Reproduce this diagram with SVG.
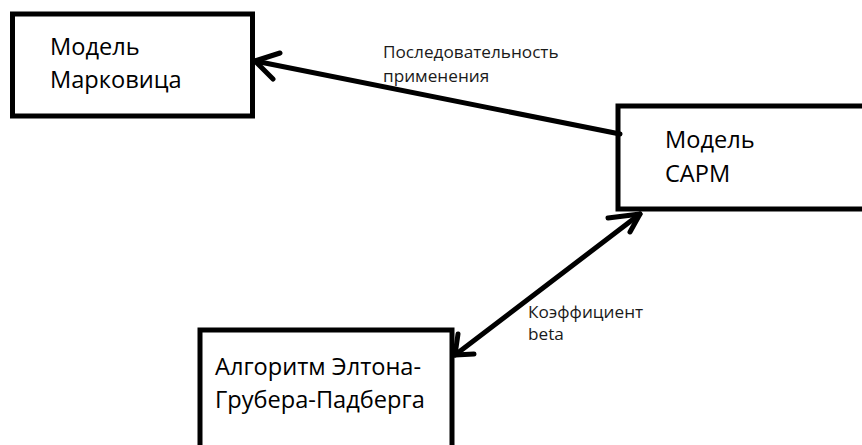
<svg xmlns="http://www.w3.org/2000/svg" width="862" height="445" viewBox="0 0 862 445">
<style>
.box{fill:#fff;stroke:#000;stroke-width:5}
.big{font-family:"Open Sans","Noto Sans",sans-serif;font-size:23.6px;fill:#000}
.small{font-family:"Open Sans","Noto Sans",sans-serif;font-size:17.2px;fill:#1a1a1a}
.ln{fill:none;stroke:#000;stroke-width:5;stroke-linecap:round;stroke-linejoin:round}
</style>
<rect width="862" height="445" fill="#fff"/>
<g id="markowitz">
<rect class="box" x="12.5" y="14" width="240" height="102"/>
<text class="big" x="50" y="55">Модель</text>
<text class="big" x="50" y="88">Марковица</text>
</g>
<g id="capm">
<rect class="box" x="618" y="106" width="260" height="103"/>
<text class="big" x="665" y="148">Модель</text>
<text class="big" x="665" y="182">CAPM</text>
</g>
<g id="egp">
<rect class="box" x="200" y="330" width="252" height="130"/>
<text class="big" x="215" y="375">Алгоритм Элтона-</text>
<text class="big" x="215" y="408">Грубера-Падберга</text>
</g>
<g id="connectors">
<path class="ln" d="M620,134 L255,61"/>
<path class="ln" d="M280,53 L255,61 L273,79"/>
<text class="small" x="383" y="58">Последовательность</text>
<text class="small" x="383" y="82">применения</text>
<path class="ln" d="M640,214 L455,355"/>
<path class="ln" d="M608,218 L640,214 L630,232"/>
<path class="ln" d="M458,334 L455,355 L474,354"/>
<text class="small" x="528" y="318">Коэффициент</text>
<text class="small" x="528" y="340">beta</text>
</g>
</svg>
